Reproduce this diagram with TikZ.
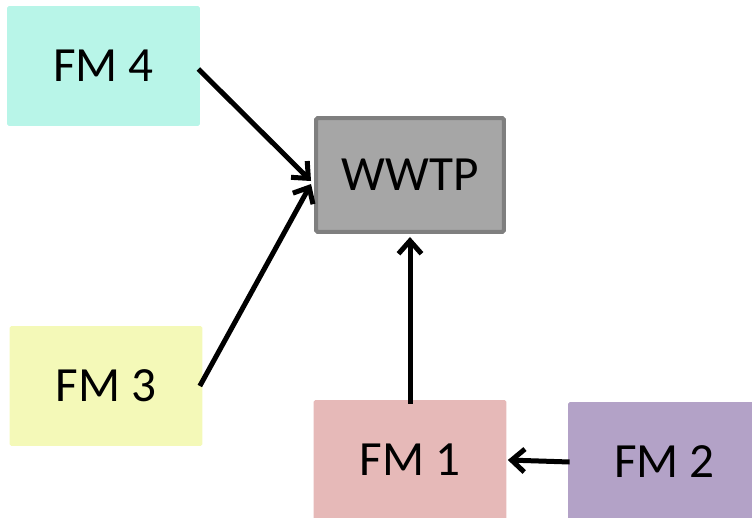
\documentclass[tikz,border=0pt]{standalone}
\usepackage{fontspec}
\setmainfont{Carlito}
\usetikzlibrary{arrows.meta}
\definecolor{fmfour}{HTML}{B8F5E8}
\definecolor{fmthree}{HTML}{F4F9B8}
\definecolor{fmone}{HTML}{E6B9B8}
\definecolor{fmtwo}{HTML}{B3A2C7}
\definecolor{plantfill}{HTML}{A6A6A6}
\definecolor{plantline}{HTML}{7F7F7F}
\tikzset{
	fmbox/.style={rectangle, rounded corners=1pt, minimum width=3.86cm, minimum height=2.4cm, font=\fontsize{28}{32}\selectfont},
	flow/.style={line width=0.1cm, -{Straight Barb[length=0.26cm, width=0.46cm, line width=0.1cm]}}
}

\begin{document}
\begin{tikzpicture}[x=0.02cm, y=-0.02cm]
			%%%%% START %%%%%
			
			\useasboundingbox (0, 0) rectangle (752, 518);
			\clip (0, 0) rectangle (752, 518);
			
			\node[fmbox, fill=fmfour] (fm4) at (103.5, 66) {FM 4};
			\node[fmbox, fill=fmthree] (fm3) at (106, 386) {FM 3};
			\node[fmbox, fill=fmone] (fm1) at (410, 460) {FM 1};
			\node[fmbox, fill=fmtwo] (fm2) at (664.5, 462) {FM 2};
			
			\node[fmbox, fill=plantfill, draw=plantline, line width=0.08cm, minimum width=3.76cm, minimum height=2.28cm] (wwtp) at (410, 175) {WWTP};
			
			\draw[flow] ([xshift=-0.04cm, yshift=-0.06cm]fm4.east) -- ([xshift=-0.06cm, yshift=-0.12cm]wwtp.west);
			\draw[flow] ([xshift=-0.06cm]fm3.east) -- ([xshift=-0.06cm, yshift=-0.18cm]wwtp.west);
			\draw[flow] ([yshift=-0.08cm]fm1.north) -- ([yshift=-0.06cm]wwtp.south);
			\draw[flow] ([xshift=0.04cm]fm2.west) -- ([xshift=0.02cm]fm1.east);
			
			%%%%% END %%%%%
\end{tikzpicture}
\end{document}
